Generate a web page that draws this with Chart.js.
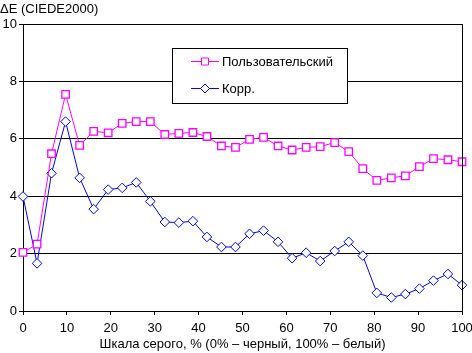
<!DOCTYPE html>
<html lang="ru">
<head>
    <meta charset="utf-8">
    <script src="https://cdn.jsdelivr.net/npm/chart.js"></script>
    <style>
        html, body { margin: 0; padding: 0; background: #fff; }
        #wrap { width: 472px; height: 353px; }
    </style>
    <title>ΔE</title>
</head>
<body>
<div id="wrap"><canvas id="chart" width="472" height="353"></canvas></div>
<script>
    // gray level, %
    const grayLevels = [0, 3.2, 6.5, 9.7, 12.9, 16.1, 19.4, 22.6, 25.8, 29.0, 32.3, 35.5, 38.7, 41.9, 45.2, 48.4,
        51.6, 54.8, 58.1, 61.3, 64.5, 67.7, 71.0, 74.2, 77.4, 80.6, 83.9, 87.1, 90.3, 93.5, 96.8, 100];
    const userValues = [2.04, 2.33, 5.48, 7.55, 5.77, 6.26, 6.21, 6.54, 6.6, 6.6, 6.15, 6.19, 6.22, 6.08, 5.75, 5.7,
        5.98, 6.05, 5.75, 5.61, 5.7, 5.73, 5.87, 5.55, 4.96, 4.55, 4.64, 4.71, 5.03, 5.31, 5.27, 5.2];
    const corrValues = [3.99, 1.66, 4.8, 6.6, 4.64, 3.55, 4.23, 4.29, 4.48, 3.82, 3.1, 3.08, 3.13, 2.58, 2.23, 2.23,
        2.69, 2.8, 2.41, 1.84, 2.03, 1.74, 2.09, 2.41, 1.93, 0.63, 0.47, 0.59, 0.78, 1.06, 1.29, 0.9];
    const seriesNames = ['Пользовательский', 'Корр.'];
    const xTicks = [0, 10, 20, 30, 40, 50, 60, 70, 80, 90, 100];
    const yTicks = [0, 2, 4, 6, 8, 10];

    const FONT = '"Liberation Sans", Arial, sans-serif';
    const FSIZE = 13;

    function toPoints(values) {
        return values.map((v, i) => ({ x: grayLevels[i], y: v }));
    }

    // frame, y-axis caption and boxed legend
    const decorations = {
        id: 'decorations',
        afterDatasetsDraw(chart) {
            const ctx = chart.ctx;
            const area = chart.chartArea;
            ctx.save();
            ctx.strokeStyle = '#000';
            ctx.lineWidth = 1;
            ctx.beginPath();
            ctx.moveTo(Math.round(area.right) + 0.5, area.top);
            ctx.lineTo(Math.round(area.right) + 0.5, area.bottom + 1);
            ctx.stroke();

            ctx.fillStyle = '#000';
            ctx.font = FSIZE + 'px ' + FONT;
            ctx.textBaseline = 'middle';
            ctx.textAlign = 'left';
            ctx.fillText('ΔE (CIEDE2000)', 0, 9);

            // legend box
            const bx = 172.5, by = 48.5, bw = 175, bh = 55;
            ctx.fillStyle = '#fff';
            ctx.fillRect(bx, by, bw, bh);
            ctx.strokeRect(bx, by, bw, bh);

            chart.data.datasets.forEach((ds, i) => {
                const y = 61.5 + i * 27;
                const x0 = 191, x1 = 219, xm = (x0 + x1) / 2;
                ctx.strokeStyle = ds.borderColor;
                ctx.beginPath();
                ctx.moveTo(x0, y);
                ctx.lineTo(x1, y);
                ctx.stroke();
                ctx.fillStyle = '#fff';
                ctx.beginPath();
                if (ds.pointStyle === 'rect') {
                    ctx.rect(xm - 3.5, y - 3.5, 7, 7);
                } else {
                    ctx.moveTo(xm, y - 4.5);
                    ctx.lineTo(xm + 4.5, y);
                    ctx.lineTo(xm, y + 4.5);
                    ctx.lineTo(xm - 4.5, y);
                    ctx.closePath();
                }
                ctx.fill();
                ctx.stroke();
                ctx.fillStyle = '#000';
                ctx.fillText(ds.label, 222, y + 0.5);
            });
            ctx.restore();
        }
    };

    new Chart(document.getElementById('chart'), {
        type: 'line',
        data: {
            datasets: [{
                label: seriesNames[0],
                data: toPoints(userValues),
                borderColor: '#ff00ff',
                backgroundColor: '#ffffff',
                borderWidth: 1,
                pointStyle: 'rect',
                pointRadius: 5.3,
                pointBorderWidth: 1.3,
                tension: 0,
                clip: false
            }, {
                label: seriesNames[1],
                data: toPoints(corrValues),
                borderColor: '#0000ff',
                backgroundColor: '#ffffff',
                borderWidth: 1,
                pointStyle: 'rectRot',
                pointRadius: 4.8,
                pointBorderWidth: 1,
                tension: 0,
                clip: false
            }]
        },
        options: {
            responsive: false,
            animation: false,
            events: [],
            layout: { padding: { top: 24, right: 10, left: 0, bottom: 0 } },
            plugins: {
                legend: { display: false },
                tooltip: { enabled: false }
            },
            scales: {
                x: {
                    type: 'linear',
                    min: 0,
                    max: 100,
                    afterFit(scale) {
                        scale.height = 42;
                        scale.paddingLeft = 0;
                        scale.paddingRight = 0;
                    },
                    afterBuildTicks(scale) { scale.ticks = xTicks.map(v => ({ value: v })); },
                    grid: { drawOnChartArea: false, drawTicks: true, tickLength: 4, color: '#000' },
                    border: { color: '#000', width: 1 },
                    ticks: { color: '#000', font: { family: FONT, size: FSIZE }, padding: 6, maxRotation: 0 },
                    title: {
                        display: true,
                        text: 'Шкала серого, % (0% – черный, 100% – белый)',
                        color: '#000',
                        font: { family: FONT, size: FSIZE },
                        padding: { top: 0, bottom: 1 }
                    }
                },
                y: {
                    min: 0,
                    max: 10,
                    afterFit(scale) { scale.width = 23; },
                    afterBuildTicks(scale) { scale.ticks = yTicks.map(v => ({ value: v })); },
                    grid: { color: '#000', tickLength: 4 },
                    border: { color: '#000', width: 1 },
                    ticks: { color: '#000', font: { family: FONT, size: FSIZE }, padding: 2 }
                }
            }
        },
        plugins: [decorations]
    });
</script>
</body>
</html>
